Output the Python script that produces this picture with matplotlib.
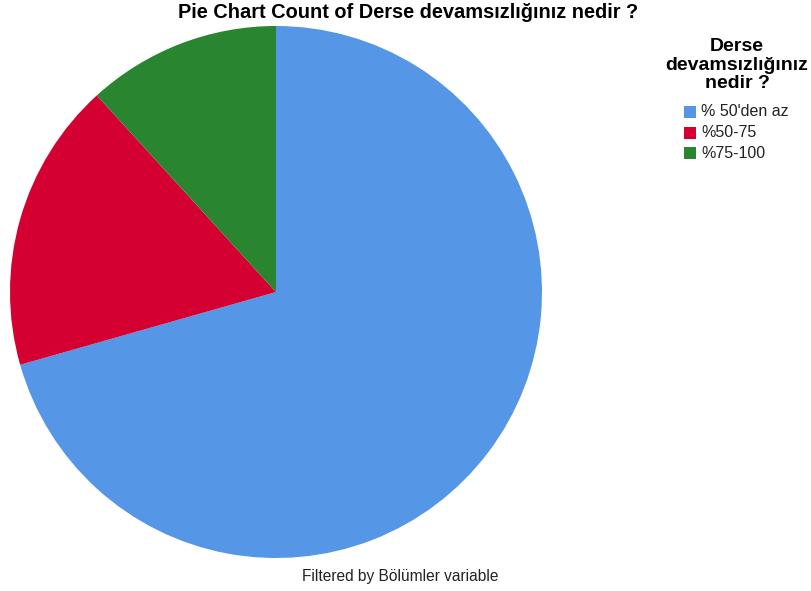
import matplotlib.pyplot as plt
from matplotlib.patches import Rectangle

plt.rcParams['font.family'] = ['Liberation Sans', 'DejaVu Sans']

categories = ["% 50'den az", '%50-75', '%75-100']
counts = [12, 3, 2]
colors = ['#5596E6', '#D50032', '#2A8530']

fig = plt.figure(figsize=(8.12, 5.91), dpi=100)
ax = fig.add_axes([10 / 812, 33 / 591, 532 / 812, 532 / 591])
ax.pie(counts, colors=colors, startangle=90, counterclock=False,
       wedgeprops={'linewidth': 0})
ax.set_aspect('equal')
ax.set_xlim(-1, 1)
ax.set_ylim(-1, 1)

fig.text(408 / 812, 1 - 12 / 591, 'Pie Chart Count of Derse devamsızlığınız nedir ?',
         ha='center', va='center', fontsize=14.4, fontweight='bold')
fig.text(400 / 812, 1 - 576 / 591, 'Filtered by Bölümler variable',
         ha='center', va='center', fontsize=11.2, color='#222222')

# legend drawn by hand
fig.text(737 / 812, 1 - 65 / 591, 'Derse\ndevamsızlığınız\nnedir ?',
         ha='center', va='center', fontsize=14, fontweight='bold',
         linespacing=1.15)
for i, (lab, col) in enumerate(zip(categories, colors)):
    y = 112 + i * 20.5
    fig.patches.append(Rectangle((684 / 812, 1 - (y + 6) / 591), 12 / 812, 12 / 591,
                                 transform=fig.transFigure, facecolor=col,
                                 edgecolor='none'))
    fig.text(701 / 812, 1 - y / 591, lab, ha='left', va='center', fontsize=11.5,
             color='#222222')

fig.savefig('out.png', dpi=100)
